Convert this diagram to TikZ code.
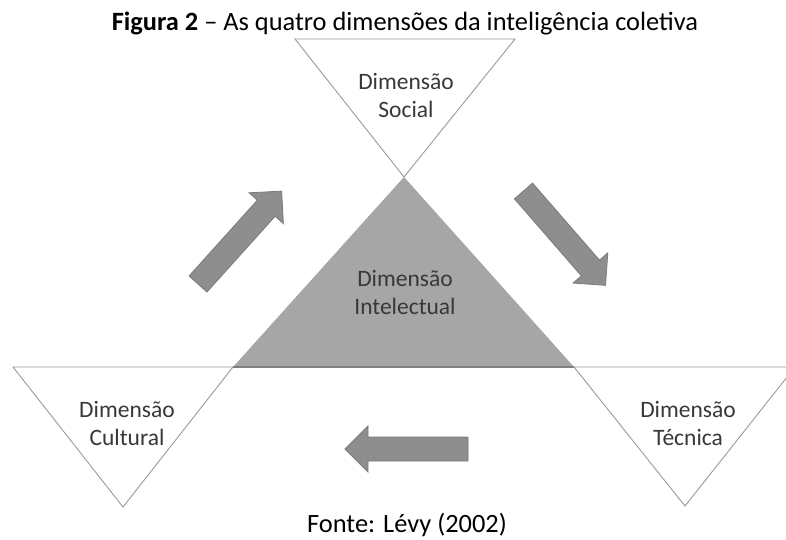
\documentclass[tikz,border=0pt]{standalone}
\usepackage{fontspec}
\setmainfont{Carlito}
\definecolor{trigray}{HTML}{A6A6A6}
\definecolor{arrowgray}{HTML}{8E8E8E}
\definecolor{arrowedge}{HTML}{7A7A7A}
\definecolor{edgegray}{HTML}{9A9A9A}
\definecolor{basegray}{HTML}{808080}
\definecolor{labelgray}{HTML}{383838}
\tikzset{
  whitetri/.style={draw=edgegray, fill=white, line width=0.9pt, line join=miter},
  greytri/.style={fill=trigray},
  blockarrow/.style={fill=arrowgray, draw=arrowedge, line width=0.8pt, line join=miter},
  dimlabel/.style={align=center, text=labelgray, inner sep=0pt, font=\fontsize{23.5}{28}\selectfont},
  caption/.style={inner sep=0pt, anchor=base, font=\fontsize{26.4}{30}\selectfont}
}
\newcommand\blockarr[4]{% x, y of tail centre, angle, length
  \draw[blockarrow, shift={(#1,#2)}, rotate=#3]
    (0,-12) -- ({#4-23},-12) -- ({#4-23},-23) -- (#4,0) -- ({#4-23},23) -- ({#4-23},12) -- (0,12) -- cycle;}
\begin{document}
\begin{tikzpicture}[x=1pt,y=-1pt]
\useasboundingbox (0,0) rectangle (786,540);
\clip (0,0) rectangle (786,540);
% key points
\coordinate (stl) at (295,39);
\coordinate (str) at (515,39);
\coordinate (top) at (404,177);
\coordinate (cl) at (233,367);
\coordinate (cr) at (574,367);
\coordinate (ll) at (13,367);
\coordinate (lapex) at (123,507);
\coordinate (rr) at (795,367);
\coordinate (rapex) at (685,506);
% central grey triangle
\fill[greytri] (top) -- (cl) -- (cr) -- cycle;
% white triangles
\draw[whitetri] (stl) -- (str) -- (top) -- cycle;
\draw[whitetri] (ll) -- (cl) -- (lapex) -- cycle;
\draw[whitetri] (cr) -- (rr) -- (rapex) -- cycle;
\draw[basegray, line width=1.2pt] (cl) -- (cr);
% arrows
\blockarr{198}{284}{48}{125}
\blockarr{523.5}{191}{-49}{125}
\blockarr{468}{449}{180}{123}
% labels
\node[dimlabel] (social) at (406,96) {Dimensão\\Social};
\node[dimlabel] (intel) at (405,292) {Dimensão\\Intelectual};
\node[dimlabel] (cult) at (127,423) {Dimensão\\Cultural};
\node[dimlabel] (tec) at (688,423) {Dimensão\\Técnica};
% caption
\node[caption] (title) at (405,31) {\textbf{Figura 2} – As quatro dimensões da inteligência coletiva};
\node[caption] (fonte) at (407,532) {Fonte: Lévy (2002)};
\end{tikzpicture}
\end{document}
